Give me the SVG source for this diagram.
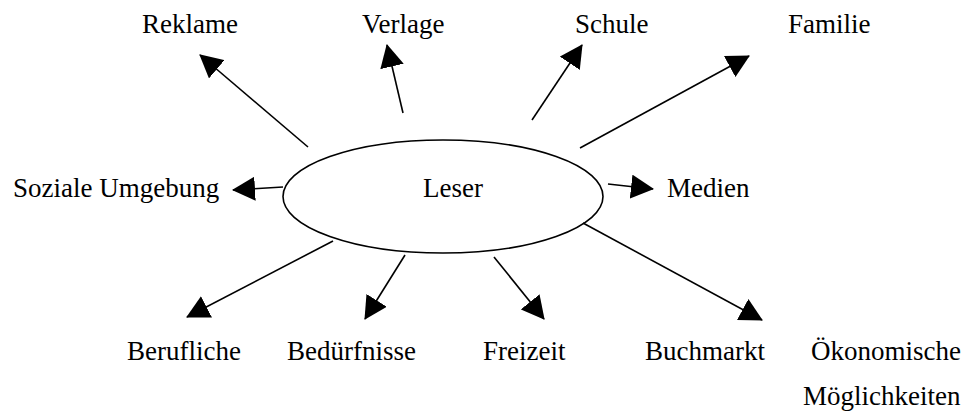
<svg xmlns="http://www.w3.org/2000/svg" width="971" height="415" viewBox="0 0 971 415">
<style>
text{font-size:27px;fill:#000}
.c line{stroke:#000;stroke-width:1.6;marker-end:url(#ah)}
</style>
<defs>
<marker id="ah" markerUnits="userSpaceOnUse" markerWidth="23" markerHeight="24" viewBox="0 0 23 24" refX="22" refY="12" orient="auto">
<path d="M0,0 L23,12 L0,24 z" fill="#000"/>
</marker>
</defs>
<rect width="971" height="415" fill="#fff"/>
<g font-family="'Liberation Serif', 'DejaVu Serif', serif">
<g id="leser">
<ellipse cx="443" cy="196.5" rx="160" ry="56.5" fill="none" stroke="#000" stroke-width="1.6"/>
<text x="423" y="197">Leser</text>
</g>
<g id="reklame"><text x="142" y="33">Reklame</text></g>
<g id="verlage"><text x="362" y="33">Verlage</text></g>
<g id="schule"><text x="575" y="33">Schule</text></g>
<g id="familie"><text x="788" y="33">Familie</text></g>
<g id="soziale"><text x="13" y="197">Soziale Umgebung</text></g>
<g id="medien"><text x="667" y="197">Medien</text></g>
<g id="berufliche"><text x="127" y="360">Berufliche</text></g>
<g id="beduerfnisse"><text x="287" y="360">Bedürfnisse</text></g>
<g id="freizeit"><text x="483" y="360">Freizeit</text></g>
<g id="buchmarkt"><text x="645" y="360">Buchmarkt</text></g>
<g id="oekonomische"><text x="811" y="360">Ökonomische</text><text x="803" y="405">Möglichkeiten</text></g>
</g>
<g id="connectors" class="c">
<line x1="308" y1="147" x2="200" y2="55"/>
<line x1="403" y1="113" x2="387" y2="45"/>
<line x1="532" y1="120" x2="582" y2="45"/>
<line x1="580" y1="148" x2="749" y2="56"/>
<line x1="283" y1="187" x2="233" y2="190"/>
<line x1="608" y1="184" x2="653" y2="189"/>
<line x1="333" y1="241" x2="187" y2="317"/>
<line x1="405" y1="255" x2="365" y2="319"/>
<line x1="494" y1="257" x2="544" y2="319"/>
<line x1="583" y1="223" x2="762" y2="320"/>
</g>
</svg>
